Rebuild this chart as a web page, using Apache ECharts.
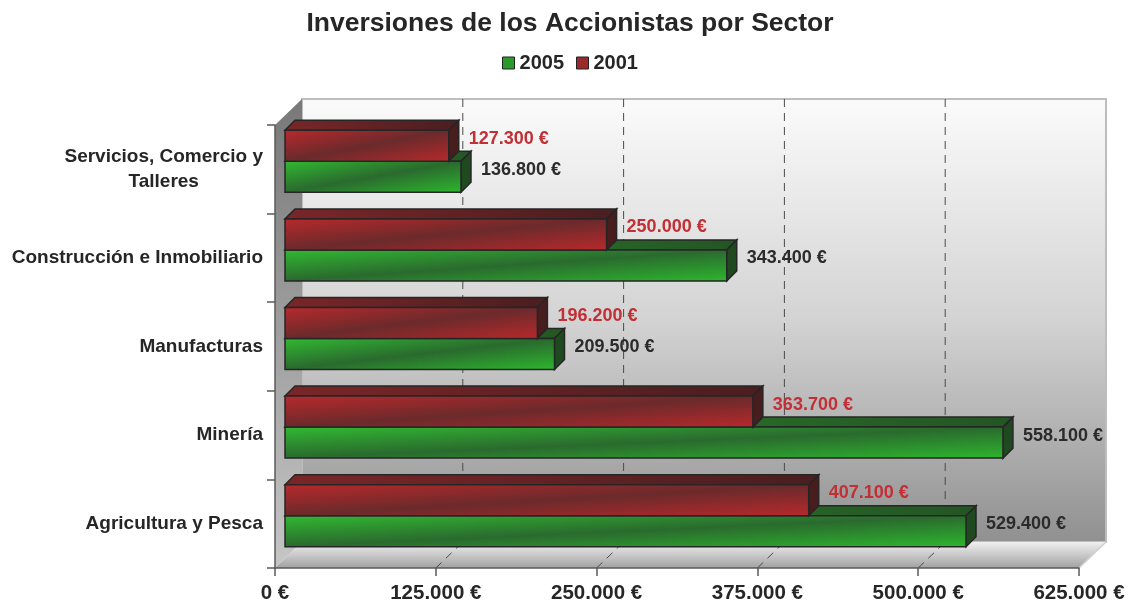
<!DOCTYPE html>
<html><head><meta charset="utf-8">
<script src="https://cdn.jsdelivr.net/npm/echarts@6/dist/echarts.min.js"></script>
<style>html,body{margin:0;padding:0;background:#fff}#c{width:1140px;height:605px}</style>
</head><body><div id="c"></div>
<script>
// ---- data ----
const categories = ['Servicios, Comercio y\nTalleres', 'Construcción e Inmobiliario', 'Manufacturas', 'Minería', 'Agricultura y Pesca'];
const seriesNames = ['2005', '2001'];
const values2005 = [136800, 343400, 209500, 558100, 529400];
const values2001 = [127300, 250000, 196200, 363700, 407100];
const xTicks = [0, 125000, 250000, 375000, 500000, 625000];
const chartTitle = 'Inversiones de los Accionistas por Sector';

// ---- style ----
const FONT = "'Liberation Sans', Arial, sans-serif";
const TXT = '#262626';
const WALL_DX = 27, WALL_DY = -26;
const BAR_OX = 10, BAR_OY = -8, BAR_DX = 10, BAR_DY = -10;

function fmt(v) {
  return String(Math.round(v)).replace(/\B(?=(\d{3})+(?!\d))/g, '.') + ' €';
}

function diagGradient(x, y, w, h, stops) {
  const vx = 1 / (2 * w), vy = 1 / (2 * h);
  const n = vx * vx + vy * vy;
  return new echarts.graphic.LinearGradient(x, y, x + vx / n, y + vy / n, stops, true);
}

const palette = {
  '2005': {
    front: [{offset: 0, color: '#31b831'}, {offset: 0.5, color: '#2a6a2e'}, {offset: 1, color: '#2db52d'}],
    top: ['#2e8a2e', '#245524'], side: '#1f4a20', label: '#2b2b2b', legend: '#2a9a2a'
  },
  '2001': {
    front: [{offset: 0, color: '#b7292c'}, {offset: 0.5, color: '#6b2a2b'}, {offset: 1, color: '#b7292c'}],
    top: ['#7a2628', '#4a1e20'], side: '#471d1e', label: '#c22f35', legend: '#9a2a2c'
  }
};

function makeBarRender(name, isUpper) {
  const pal = palette[name];
  return function (params, api) {
    const val = api.value(0), cat = api.value(1);
    const p0 = api.coord([0, cat]);
    const p1 = api.coord([val, cat]);
    const band = api.size([0, 1])[1];
    const h = band * 0.35;
    const yc = p0[1] + BAR_OY;
    const yTop = isUpper ? yc - h : yc;
    const yBot = yTop + h;
    const xl = p0[0] + BAR_OX, xr = p1[0] + BAR_OX;
    const w = xr - xl;
    const stroke = '#262626', lw = 1.5;
    return {
      type: 'group',
      children: [
        {type: 'polygon', shape: {points: [[xl, yTop], [xl + BAR_DX, yTop + BAR_DY], [xr + BAR_DX, yTop + BAR_DY], [xr, yTop]]},
          style: {fill: new echarts.graphic.LinearGradient(0, 0, 1, 0, [{offset: 0, color: pal.top[0]}, {offset: 1, color: pal.top[1]}]), stroke: stroke, lineWidth: lw}},
        {type: 'polygon', shape: {points: [[xr, yTop], [xr + BAR_DX, yTop + BAR_DY], [xr + BAR_DX, yBot + BAR_DY], [xr, yBot]]},
          style: {fill: pal.side, stroke: stroke, lineWidth: lw}},
        {type: 'rect', shape: {x: xl, y: yTop, width: w, height: h},
          style: {fill: diagGradient(xl, yTop, w, h, pal.front), stroke: stroke, lineWidth: lw}},
        {type: 'text', style: {text: fmt(val), x: xr + BAR_DX + 10, y: (yTop + yBot) / 2 + BAR_DY + 3,
          fill: pal.label, font: 'bold 18px ' + FONT, textAlign: 'left', textVerticalAlign: 'middle'}}
      ]
    };
  };
}

function renderWalls(params, api) {
  const cs = params.coordSys;
  const x = cs.x, y = cs.y, w = cs.width, h = cs.height;
  const ch = [];
  ch.push({type: 'rect', shape: {x: x + WALL_DX, y: y + WALL_DY, width: w, height: h},
    style: {fill: new echarts.graphic.LinearGradient(0, 0, 0, 1, [
      {offset: 0, color: '#fbfbfb'}, {offset: 0.5, color: '#d3d3d3'}, {offset: 1, color: '#909090'}]),
      stroke: '#bdbdbd', lineWidth: 2}});
  ch.push({type: 'polygon', shape: {points: [[x, y], [x + WALL_DX, y + WALL_DY], [x + WALL_DX, y + h + WALL_DY], [x, y + h]]},
    style: {fill: new echarts.graphic.LinearGradient(0, 0, 0, 1, [
      {offset: 0, color: '#787878'}, {offset: 1, color: '#c6c6c6'}])}});
  ch.push({type: 'polygon', shape: {points: [[x, y + h], [x + WALL_DX, y + h + WALL_DY], [x + w + WALL_DX, y + h + WALL_DY], [x + w, y + h]]},
    style: {fill: new echarts.graphic.LinearGradient(0, 0, 0, 1, [
      {offset: 0, color: '#f0f0f0'}, {offset: 1, color: '#a2a2a2'}])}});
  ch.push({type: 'line', shape: {x1: x + w, y1: y + h, x2: x + w + WALL_DX, y2: y + h + WALL_DY},
    style: {stroke: '#d0d0d0', lineWidth: 1.5}});
  xTicks.slice(1, -1).forEach(function (t) {
    const px = api.coord([t, 0])[0];
    ch.push({type: 'line', shape: {x1: px + WALL_DX, y1: y + WALL_DY, x2: px + WALL_DX, y2: y + h + WALL_DY},
      style: {stroke: '#4a4a4a', lineWidth: 1, lineDash: [8, 6]}});
    ch.push({type: 'line', shape: {x1: px, y1: y + h, x2: px + WALL_DX, y2: y + h + WALL_DY},
      style: {stroke: '#4a4a4a', lineWidth: 1, lineDash: [8, 6]}});
  });
  return {type: 'group', children: ch};
}

const chart = echarts.init(document.getElementById('c'), null, {renderer: 'canvas'});
chart.setOption({
  animation: false,
  backgroundColor: '#ffffff',
  title: {text: chartTitle, left: 'center', top: 5,
    textStyle: {fontFamily: FONT, fontSize: 26.5, fontWeight: 'bold', color: TXT}},
  legend: {top: 48, left: 'center', itemWidth: 12, itemHeight: 12, itemGap: 12,
    textStyle: {fontFamily: FONT, fontSize: 20, fontWeight: 'bold', color: TXT},
    data: seriesNames.map(function (n) {
      return {name: n, icon: 'rect', itemStyle: {color: palette[n].legend, borderColor: '#222', borderWidth: 1}};
    })},
  grid: {left: 275, right: 61, top: 125, bottom: 37, containLabel: false},
  xAxis: {type: 'value', min: xTicks[0], max: xTicks[xTicks.length - 1], interval: xTicks[1] - xTicks[0], z: 5,
    axisLine: {show: true, lineStyle: {color: '#5a5a5a', width: 1.5}},
    axisTick: {show: true, length: 8, lineStyle: {color: '#5a5a5a', width: 1.5}},
    splitLine: {show: false},
    axisLabel: {margin: 15, fontFamily: FONT, fontSize: 20.5, fontWeight: 'bold', color: TXT, formatter: fmt}},
  yAxis: {type: 'category', data: categories, inverse: true, z: 5,
    axisLine: {show: true, lineStyle: {color: '#5a5a5a', width: 1.5}},
    axisTick: {show: true, length: 8, lineStyle: {color: '#5a5a5a', width: 1.5}},
    splitLine: {show: false},
    axisLabel: {margin: 12, formatter: function (v) {
      return v.split('\n').map(function (l) { return '{a|' + l + '}'; }).join('\n');
    }, rich: {a: {align: 'center', fontFamily: FONT, fontSize: 19, fontWeight: 'bold', color: TXT, lineHeight: 25}}}},
  series: [
    {type: 'custom', name: 'walls', z: 1, silent: true, clip: false, renderItem: renderWalls, data: [[0, 0]], encode: {x: 0, y: 1}},
    {type: 'custom', name: seriesNames[0], z: 2, clip: false, renderItem: makeBarRender('2005', false),
      itemStyle: {color: palette['2005'].legend},
      data: values2005.map(function (v, i) { return [v, i]; }), encode: {x: 0, y: 1}},
    {type: 'custom', name: seriesNames[1], z: 3, clip: false, renderItem: makeBarRender('2001', true),
      itemStyle: {color: palette['2001'].legend},
      data: values2001.map(function (v, i) { return [v, i]; }), encode: {x: 0, y: 1}}
  ]
});
</script>
</body></html>
